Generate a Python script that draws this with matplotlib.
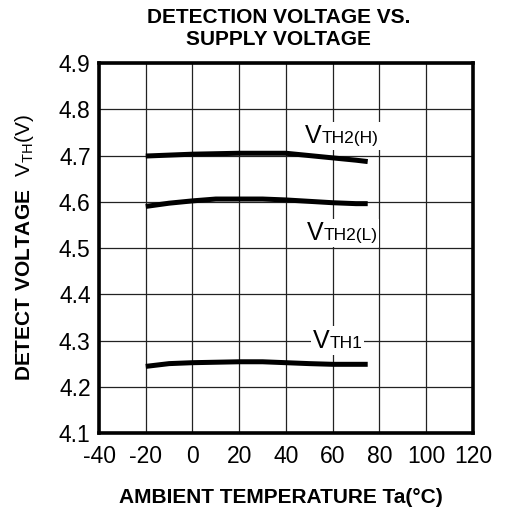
import matplotlib
matplotlib.use('Agg')
import matplotlib.pyplot as plt
from matplotlib.offsetbox import TextArea, HPacker, AnnotationBbox

plt.rcParams['font.family'] = 'Liberation Sans'
plt.rcParams['mathtext.fontset'] = 'custom'
plt.rcParams['mathtext.rm'] = 'Liberation Sans'
plt.rcParams['mathtext.bf'] = 'Liberation Sans:bold'
plt.rcParams['axes.unicode_minus'] = False

# data
temps = [-20, -10, 0, 10, 20, 30, 40, 50, 60, 70, 75]
vth2_h = [4.699, 4.701, 4.703, 4.704, 4.705, 4.705, 4.705, 4.700, 4.695, 4.690, 4.687]
vth2_l = [4.590, 4.597, 4.602, 4.606, 4.606, 4.606, 4.604, 4.601, 4.598, 4.596, 4.596]
vth1 = [4.244, 4.250, 4.252, 4.253, 4.254, 4.254, 4.252, 4.250, 4.2485, 4.2485, 4.2485]

x_ticks = [-40, -20, 0, 20, 40, 60, 80, 100, 120]
y_ticks = [4.1, 4.2, 4.3, 4.4, 4.5, 4.6, 4.7, 4.8, 4.9]

# label subscripts and where they sit (temperature, voltage)
label_subs = ['TH2(H)', 'TH2(L)', 'TH1']
label_pos = [(64, 4.742), (64, 4.533), (62, 4.300)]

fig = plt.figure(figsize=(5.09, 5.13), dpi=100)
ax = fig.add_axes([0.1945, 0.156, 0.7345, 0.721])

for ys in (vth2_h, vth2_l, vth1):
    ax.plot(temps, ys, color='black', linewidth=3.6, solid_capstyle='butt', zorder=3)

ax.set_xlim(-40, 120)
ax.set_ylim(4.1, 4.9)
ax.set_xticks(x_ticks)
ax.set_yticks(y_ticks)
ax.set_yticklabels(['%.1f' % v for v in y_ticks])
ax.tick_params(length=0, labelsize=16.5)
ax.tick_params(axis='x', pad=9)
ax.tick_params(axis='y', pad=6)
ax.set_axisbelow(True)
ax.grid(color='#222222', linewidth=0.9)
for s in ax.spines.values():
    s.set_linewidth(2.6)

for sub, (x, y) in zip(label_subs, label_pos):
    parts = [TextArea('V', textprops=dict(fontsize=18)),
             TextArea(sub, textprops=dict(fontsize=12.5))]
    box = HPacker(children=parts, align='baseline', pad=0, sep=0)
    ab = AnnotationBbox(box, (x, y), xycoords='data', frameon=True, pad=0.15,
                        bboxprops=dict(fc='white', ec='none'))
    ab.set_zorder(4)
    ax.add_artist(ab)

fig.text(0.548, 0.955, 'DETECTION VOLTAGE VS.', ha='center', va='baseline',
         fontsize=15, fontweight='bold')
fig.text(0.548, 0.912, 'SUPPLY VOLTAGE', ha='center', va='baseline',
         fontsize=15, fontweight='bold')
fig.text(0.552, 0.0195, 'AMBIENT TEMPERATURE Ta(°C)', ha='center', va='baseline',
         fontsize=15, fontweight='bold')
fig.text(0.048, 0.5175, r'$\mathbf{DETECT\ VOLTAGE}\ \ \mathrm{V_{TH}(V)}$',
         rotation=90, ha='center', va='center', fontsize=15)

fig.savefig('out.png', dpi=100)
